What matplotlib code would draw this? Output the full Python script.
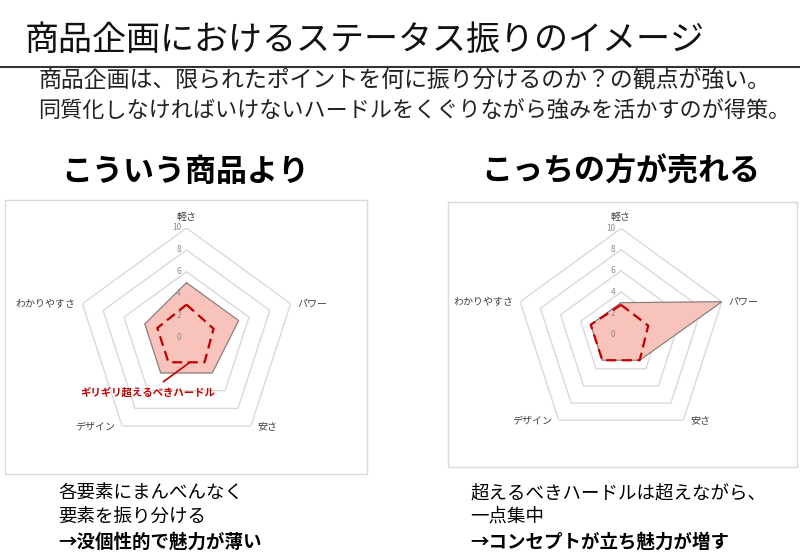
import numpy as np
import matplotlib
matplotlib.use("Agg")
import matplotlib.pyplot as plt
from matplotlib.patches import Rectangle
from matplotlib.lines import Line2D

plt.rcParams['font.family'] = ['Noto Sans CJK JP', 'DejaVu Sans']

# data
categories = ["軽さ", "パワー", "安さ", "デザイン", "わかりやすさ"]
left_values = [5, 5, 4, 4, 4]
left_hurdle = [3, 2.6, 2.8, 2.8, 2.8]
right_values = [3, 10, 3, 3, 3]
right_hurdle = [2.8, 2.7, 3, 3, 3]
rings = [2, 4, 6, 8, 10]
tick_labels = ["0", "2", "4", "6", "8", "10"]

W, H = 800, 556
fig = plt.figure(figsize=(W / 100, H / 100), dpi=100)


def fx(x):
    return x / W


def fy(y):
    return 1 - y / H


# header
fig.text(fx(25), fy(40), "商品企画におけるステータス振りのイメージ", fontsize=24.5,
         va="center", ha="left", color="#111111")
fig.add_artist(Line2D([0, 1], [fy(67), fy(67)], color="#333333", lw=1.5))
fig.text(fx(38), fy(81), "商品企画は、限られたポイントを何に振り分けるのか？の観点が強い。",
         fontsize=16.5, va="center", ha="left", color="#222222")
fig.text(fx(38), fy(112), "同質化しなければいけないハードルをくぐりながら強みを活かすのが得策。",
         fontsize=15.9, va="center", ha="left", color="#222222")

fig.text(fx(185), fy(172), "こういう商品より", fontsize=22.3, fontweight="bold",
         ha="center", va="center")
fig.text(fx(621), fy(172), "こっちの方が売れる", fontsize=22.3, fontweight="bold",
         ha="center", va="center")

# chart frames
fig.add_artist(Rectangle((fx(5), fy(474)), fx(362), 274 / H, fill=False,
                         edgecolor="#d9d9d9", lw=1))
fig.add_artist(Rectangle((fx(448), fy(467)), fx(349), 265 / H, fill=False,
                         edgecolor="#d9d9d9", lw=1))

angles = np.linspace(0, 2 * np.pi, len(categories), endpoint=False)
closed = np.concatenate([angles, angles[:1]])


def radar(cx, cy, R, values, hurdle, note=False):
    ax = fig.add_axes([fx(cx - R), fy(cy + R), 2 * R / W, 2 * R / H],
                      projection="polar")
    ax.set_theta_offset(np.pi / 2)
    ax.set_theta_direction(-1)
    ax.set_ylim(0, 10)
    ax.set_xticks([])
    ax.set_yticks([])
    ax.spines["polar"].set_visible(False)
    ax.grid(False)
    ax.patch.set_alpha(0)
    for r in rings:
        ax.plot(closed, [r] * len(closed), color="#d9d9d9", lw=1.0, zorder=1)
    for t in tick_labels:
        ax.annotate(t, xy=(0, int(t)), xytext=(-4, 0), textcoords="offset points",
                    ha="right", va="center", fontsize=6, color="#8c8c8c")
    v = values + values[:1]
    ax.fill(closed, v, color="#f8c3bb", zorder=2)
    ax.plot(closed, v, color="#7f7f7f", lw=0.8, zorder=3)
    h = hurdle + hurdle[:1]
    ax.plot(closed, h, color="#c00000", lw=1.6, ls=(0, (4.5, 2.5)), zorder=4)
    for a, lab in zip(angles, categories):
        s = np.sin(a)
        if abs(s) < 0.1:
            ha, off = "center", (0, 8)
        elif s > 0:
            ha, off = "left", (5, 0)
        else:
            ha, off = "right", (-5, 0)
        ax.annotate(lab, xy=(a, 10), xytext=off, textcoords="offset points",
                    ha=ha, va="center", fontsize=7.2, color="#404040",
                    annotation_clip=False)
    if note:
        ax.annotate("ギリギリ超えるべきハードル", xy=(np.pi * 0.96, 2.3),
                    xytext=(fx(148), fy(393)), textcoords="figure fraction",
                    ha="center", va="center", fontsize=7.5, fontweight="bold",
                    color="#c00000",
                    arrowprops=dict(arrowstyle="-", color="#c00000", lw=1.2,
                                    shrinkA=4, shrinkB=0),
                    annotation_clip=False, zorder=5)
    return ax


radar(186.5, 337.5, 109.5, left_values, left_hurdle, note=True)
radar(621, 334.5, 106, right_values, right_hurdle)

# bottom notes
fig.text(fx(58), fy(493), "各要素にまんべんなく", fontsize=13.3, va="center")
fig.text(fx(58), fy(517), "要素を振り分ける", fontsize=13.3, va="center")
fig.text(fx(58), fy(542), "→没個性的で魅力が薄い", fontsize=13.3, fontweight="bold",
         va="center")
fig.text(fx(470), fy(493), "超えるべきハードルは超えながら、", fontsize=13.3, va="center")
fig.text(fx(470), fy(517), "一点集中", fontsize=13.3, va="center")
fig.text(fx(470), fy(542), "→コンセプトが立ち魅力が増す", fontsize=13.3, fontweight="bold",
         va="center")

fig.savefig("out.png", dpi=100)
